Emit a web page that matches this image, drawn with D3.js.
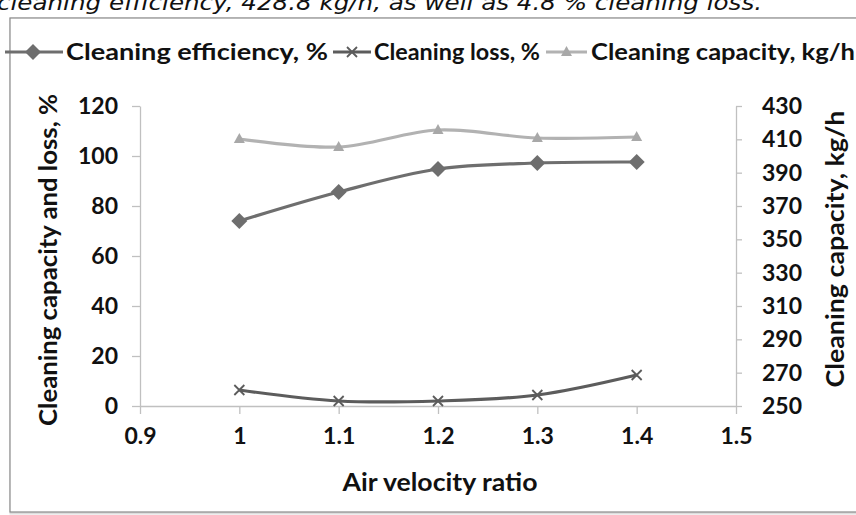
<!DOCTYPE html>
<html><head><meta charset="utf-8">
<script src="https://cdn.jsdelivr.net/npm/d3@7"></script>
<style>body{margin:0;background:#fff;} svg{display:block;}</style>
</head><body>
<svg id="c" width="856" height="515"></svg>
<script>
const xValues = [1, 1.1, 1.2, 1.3, 1.4];
const efficiency = [74, 85.6, 94.8, 97.2, 97.6];
const loss = [6.4, 2, 2, 4.4, 12.4];
const capacity = [410.2, 405.4, 415.6, 410.8, 411.4];
const xTicks = [0.9, 1, 1.1, 1.2, 1.3, 1.4, 1.5];
const leftTicks = [0, 20, 40, 60, 80, 100, 120];
const rightTicks = [250, 270, 290, 310, 330, 350, 370, 390, 410, 430];
const seriesNames = ["Cleaning efficiency, %", "Cleaning loss, %", "Cleaning capacity, kg/h"];
const caption = "cleaning efficiency, 428.8 kg/h, as well as 4.8 % cleaning loss.";

const svg = d3.select("#c");
const F = "Lato, 'Open Sans', sans-serif";

// caption (cut at top as in the source)
svg.append("text").attr("x", -3).attr("y", 10).attr("font-family","'DejaVu Sans', sans-serif")
  .attr("font-style","italic").attr("font-size",22).attr("fill","#111")
  .attr("textLength",765).attr("lengthAdjust","spacingAndGlyphs").text(caption);

// chart frame
svg.append("rect").attr("x",11).attr("y",19).attr("width",870).attr("height",494)
  .attr("fill","none").attr("stroke","#ddd").attr("stroke-width",3);
svg.append("rect").attr("x",10).attr("y",18).attr("width",870).attr("height",494)
  .attr("fill","#fff").attr("stroke","#8a8a8a").attr("stroke-width",1.2);

const x = d3.scaleLinear().domain([0.9,1.5]).range([140,736]);
const yL = d3.scaleLinear().domain([0,120]).range([406,106]);
const yR = d3.scaleLinear().domain([250,430]).range([406,106]);

const axisCol = "#c0c0c0";
function styleAxis(g){
  g.select(".domain").attr("stroke",axisCol).attr("stroke-width",1.3);
  g.selectAll(".tick line").attr("stroke",axisCol).attr("stroke-width",1.3);
  g.selectAll(".tick text").attr("fill","#111").attr("font-family",F).attr("font-weight","bold").attr("font-size",23);
}
const gx = svg.append("g").attr("transform","translate(0,406)")
  .call(d3.axisBottom(x).tickValues(xTicks).tickFormat(d=>String(+d.toFixed(1))).tickSize(8).tickSizeOuter(0).tickPadding(14));
styleAxis(gx);
const gl = svg.append("g").attr("transform","translate(140,0)")
  .call(d3.axisLeft(yL).tickValues(leftTicks).tickSize(8).tickSizeOuter(0).tickPadding(14));
styleAxis(gl);
const gr = svg.append("g").attr("transform","translate(736,0)")
  .call(d3.axisRight(yR).tickValues(rightTicks).tickSize(6).tickSizeOuter(0).tickPadding(20));
styleAxis(gr);

// axis titles
svg.append("text").attr("x",440).attr("y",491).attr("text-anchor","middle")
  .attr("font-family",F).attr("font-weight","bold").attr("font-size",25).attr("fill","#111")
  .attr("textLength",195).attr("lengthAdjust","spacingAndGlyphs").text("Air velocity ratio");
svg.append("text").attr("transform","translate(57,260) rotate(-90)").attr("text-anchor","middle")
  .attr("font-family",F).attr("font-weight","bold").attr("font-size",25).attr("fill","#111")
  .attr("textLength",332).attr("lengthAdjust","spacingAndGlyphs").text("Cleaning capacity and loss, %");
svg.append("text").attr("transform","translate(844,249) rotate(-90)").attr("text-anchor","middle")
  .attr("font-family",F).attr("font-weight","bold").attr("font-size",25).attr("fill","#111")
  .attr("textLength",277).attr("lengthAdjust","spacingAndGlyphs").text("Cleaning capacity,  kg/h");

const cEff = "#6e6e6e", cLoss = "#5c5c5c", cCap = "#b2b2b2";
const curve = d3.curveCatmullRom.alpha(0.5);
function drawLine(vals, ys, col){
  const line = d3.line().x((d,i)=>x(xValues[i])).y(d=>ys(d)).curve(curve);
  svg.append("path").datum(vals).attr("d",line).attr("fill","none").attr("stroke",col).attr("stroke-width",3.2);
}
drawLine(capacity, yR, cCap);
drawLine(efficiency, yL, cEff);
drawLine(loss, yL, cLoss);

function diamond(g,cx,cy,col){
  g.append("path").attr("d",`M${cx},${cy-8}L${cx+8},${cy}L${cx},${cy+8}L${cx-8},${cy}Z`).attr("fill",col); }
function cross(g,cx,cy,col){ g.append("path").attr("d",`M${cx-5},${cy-5}L${cx+5},${cy+5}M${cx-5},${cy+5}L${cx+5},${cy-5}`).attr("stroke",col).attr("stroke-width",1.8).attr("fill","none"); }
function tri(g,cx,cy,col){ g.append("path").attr("d",`M${cx},${cy-6}L${cx+5.5},${cy+4}L${cx-5.5},${cy+4}Z`).attr("fill",col); }

const mk = svg.append("g");
capacity.forEach((v,i)=>tri(mk.append("g"),x(xValues[i]),yR(v),"#a8a8a8"));
efficiency.forEach((v,i)=>diamond(mk.append("g"),x(xValues[i]),yL(v),cEff));
loss.forEach((v,i)=>cross(mk.append("g"),x(xValues[i]),yL(v),cLoss));

// legend
const leg = [
  {x0:5, x1:63, col:cEff, m:diamond, tx:66, w:262},
  {x0:333, x1:371, col:cLoss, m:cross, tx:374, w:166},
  {x0:546, x1:587, col:cCap, m:tri, tx:591, w:264}
];
const ly = 52;
leg.forEach((l,i)=>{
  svg.append("line").attr("x1",l.x0).attr("x2",l.x1).attr("y1",ly).attr("y2",ly).attr("stroke",l.col).attr("stroke-width",3.2);
  const g = svg.append("g");
  const cx = i===0 ? 33 : (l.x0+l.x1)/2;
  l.m(g,cx,ly, i===2?"#a8a8a8":l.col);
  svg.append("text").attr("x",l.tx).attr("y",ly+8).attr("font-family",F).attr("font-weight","bold")
    .attr("font-size",23).attr("fill","#111")
    .attr("textLength",l.w).attr("lengthAdjust","spacingAndGlyphs").text(seriesNames[i]);
});
</script>
</body></html>
